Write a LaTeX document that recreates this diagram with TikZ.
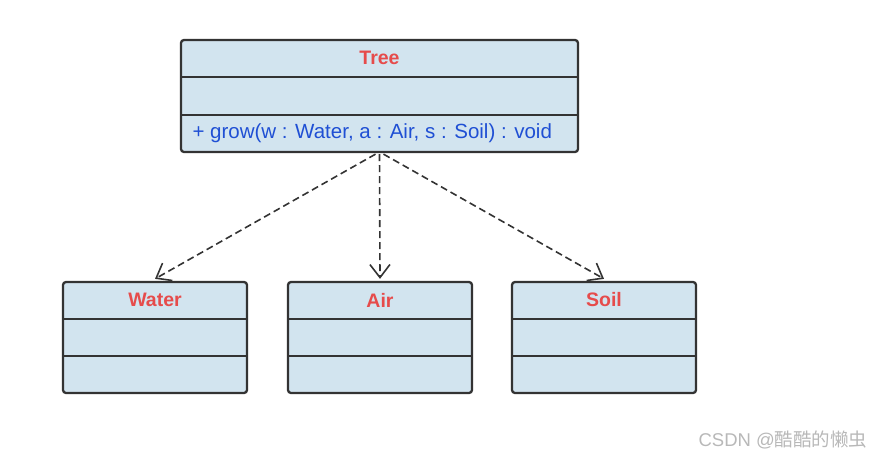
\documentclass[tikz,border=0pt]{standalone}
\usepackage{fontspec}
\setmainfont{Liberation Sans}
\newfontfamily\cjk{Noto Sans CJK SC}
\usetikzlibrary{arrows.meta}
\definecolor{boxfill}{HTML}{D2E4EF}
\definecolor{boxline}{HTML}{333333}
\definecolor{titlered}{HTML}{E64B4B}
\definecolor{opblue}{HTML}{1F4FD4}
\definecolor{wm}{HTML}{B8B8B8}
\tikzset{
  umlbox/.style={draw=boxline, fill=boxfill, line width=2.3pt, rounded corners=3pt, inner sep=0pt},
  divider/.style={draw=boxline, line width=2.3pt},
  title/.style={text=titlered, font=\fontsize{19.5}{22}\selectfont\bfseries},
  opname/.style={text=opblue, font=\fontsize{20.5}{24}\selectfont, anchor=west},
  dep/.style={draw=boxline, line width=1.6pt, dash pattern=on 7pt off 4pt, -{Straight Barb[length=13pt,width=20pt,line width=1.6pt]}}
}
\begin{document}
\begin{tikzpicture}[x=1pt,y=-1pt]
\useasboundingbox (0,0) rectangle (886,459);
% Tree
\node[umlbox, minimum width=397pt, minimum height=112pt] (tree) at (379.5,96) {};
\draw[divider] (181,77) -- (578,77);
\draw[divider] (181,115) -- (578,115);
\node[title] (treet) at (379.5,58) {Tree};
\node[opname] (treeop) at (189,133) {+ grow(w : Water, a : Air, s : Soil) : void};
% Water
\node[umlbox, minimum width=184pt, minimum height=111pt] (water) at (155,337.5) {};
\draw[divider] (63,319) -- (247,319);
\draw[divider] (63,356) -- (247,356);
\node[title] (watert) at (155,300) {Water};
% Air
\node[umlbox, minimum width=184pt, minimum height=111pt] (air) at (380,337.5) {};
\draw[divider] (288,319) -- (472,319);
\draw[divider] (288,356) -- (472,356);
\node[title] (airt) at (380,300) {Air};
% Soil
\node[umlbox, minimum width=184pt, minimum height=111pt] (soil) at (604,337.5) {};
\draw[divider] (512,319) -- (696,319);
\draw[divider] (512,356) -- (696,356);
\node[title] (soilt) at (604,300) {Soil};
% dependencies
\draw[dep] ([xshift=-4pt,yshift=-1pt]tree.south) -- ([yshift=2pt]water.north);
\draw[dep] ([yshift=-1pt]tree.south) -- ([yshift=2pt]air.north);
\draw[dep] ([xshift=4pt,yshift=-1pt]tree.south) -- ([yshift=2pt]soil.north);
% watermark
\node[text=wm, font=\fontsize{18.5}{21}\selectfont, anchor=east] (wmk) at (871,440) {CSDN @{\cjk 酷酷的懒虫}};
\end{tikzpicture}
\end{document}
